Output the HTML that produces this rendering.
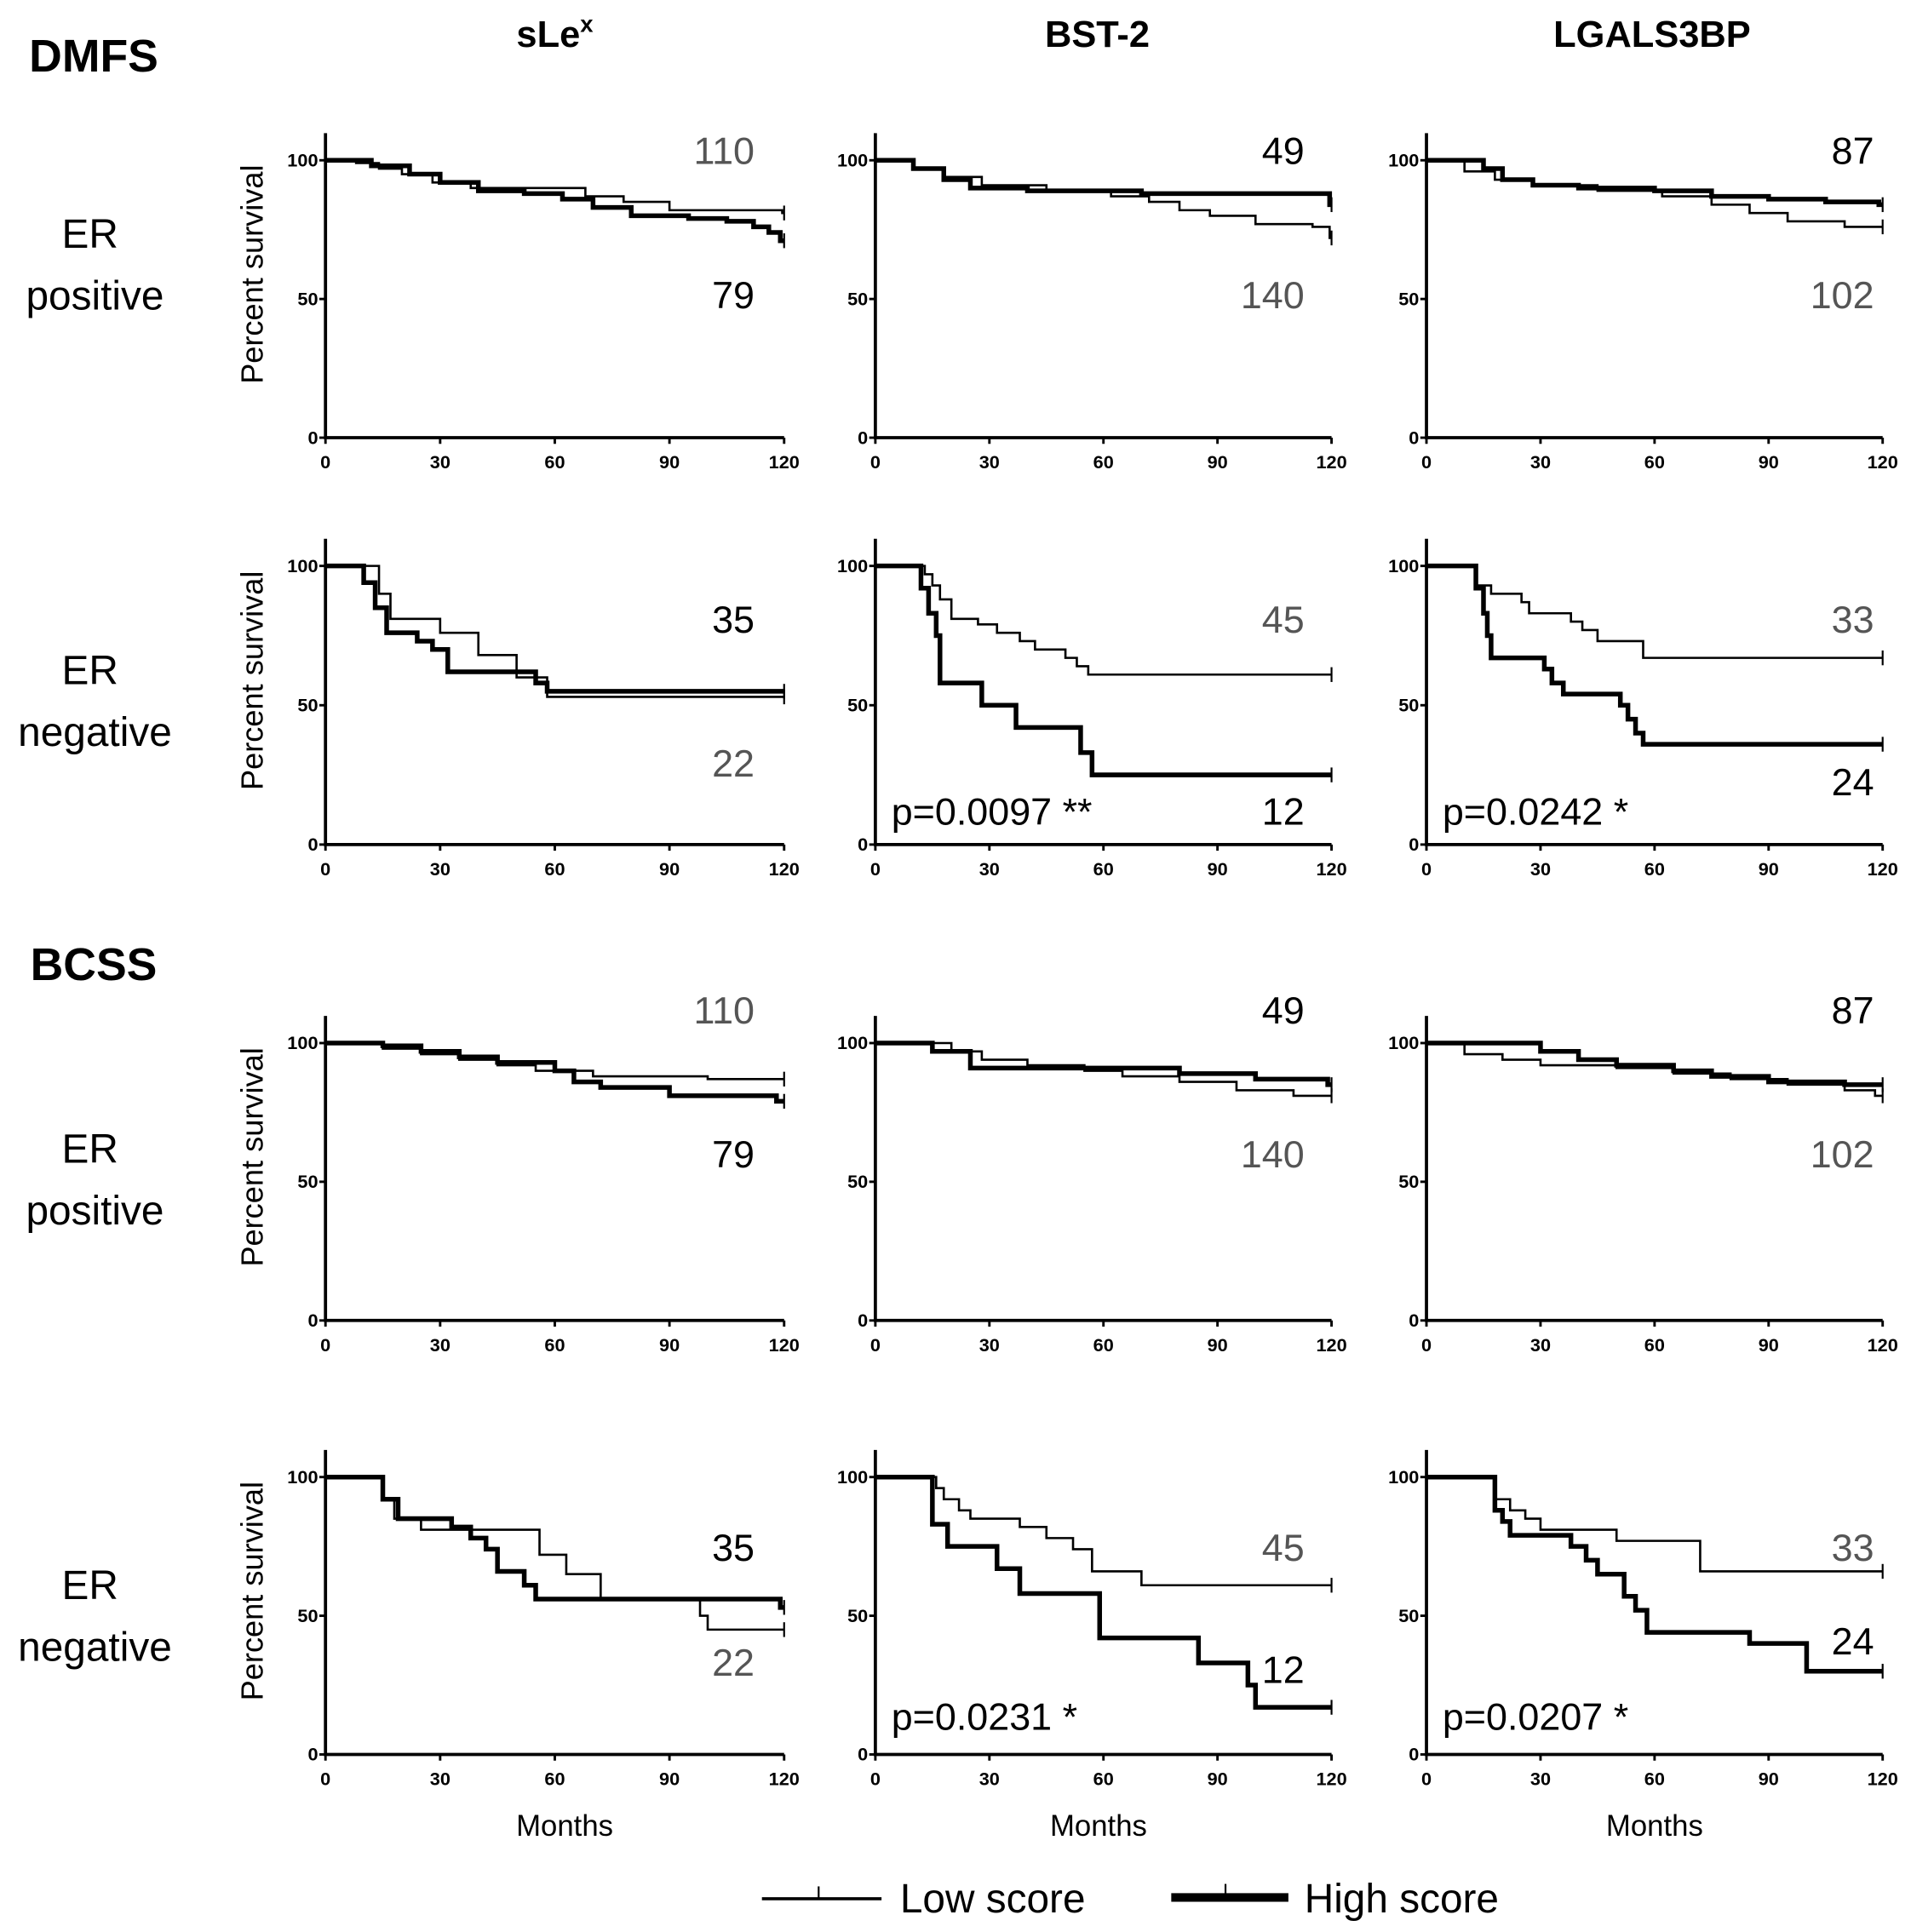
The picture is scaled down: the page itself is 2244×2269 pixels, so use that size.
<!DOCTYPE html>
<html><head><meta charset="utf-8"><style>
html,body{margin:0;padding:0;background:#fff}
svg{display:block}
text{font-family:"Liberation Sans Narrow","Liberation Sans",sans-serif}
.tick{font-size:15px;font-weight:bold;text-anchor:middle}
.ytick{font-size:15px;font-weight:bold;text-anchor:end}
.n{font-size:31px;text-anchor:end}
.g{fill:#555}
.lab{font-size:33px;text-anchor:middle}
.ttl{font-size:30px;font-weight:bold;text-anchor:middle;font-family:"Liberation Sans",sans-serif}
.yt{font-size:25px;text-anchor:middle;font-family:"Liberation Sans",sans-serif}
.mo{font-size:24px;text-anchor:middle}
</style></head><body>
<svg id="fig" width="2244" height="2269" viewBox="0 0 1550 1567" preserveAspectRatio="none" xmlns="http://www.w3.org/2000/svg">
<g id="static">
<text x="76" y="58" class="ttl" style="font-size:37px">DMFS</text>
<text x="76" y="795" class="ttl" style="font-size:37px">BCSS</text>
<text x="450" y="38" class="ttl">sLe<tspan dy="-12" style="font-size:19px">x</tspan></text>
<text x="890" y="38" class="ttl">BST-2</text>
<text x="1340" y="38" class="ttl">LGALS3BP</text>
<text x="75" y="201" class="lab"><tspan x="73">ER</tspan><tspan x="77" dy="50">positive</tspan></text>
<text x="75" y="555" class="lab"><tspan x="73">ER</tspan><tspan x="77" dy="50">negative</tspan></text>
<text x="75" y="943" class="lab"><tspan x="73">ER</tspan><tspan x="77" dy="50">positive</tspan></text>
<text x="75" y="1297" class="lab"><tspan x="73">ER</tspan><tspan x="77" dy="50">negative</tspan></text>
<text x="458" y="1489" class="mo">Months</text>
<text x="891" y="1489" class="mo">Months</text>
<text x="1342" y="1489" class="mo">Months</text>
<g>
<line x1="618" y1="1540" x2="715" y2="1540" stroke="#000" stroke-width="2.5"/>
<line x1="664" y1="1530" x2="664" y2="1540" stroke="#000" stroke-width="1.5"/>
<text x="730" y="1551" style="font-size:33px">Low score</text>
<line x1="950" y1="1539" x2="1045" y2="1539" stroke="#000" stroke-width="7"/>
<line x1="994" y1="1528" x2="994" y2="1539" stroke="#000" stroke-width="1.5"/>
<text x="1058" y="1551" style="font-size:33px">High score</text>
</g>
</g>
<g id="plots"></g>
</svg>
<script>
// ---- data (months, percent survival) ----
const xTicks=[0,30,60,90,120];
const yTicks=[0,50,100];
const r1c1LowT=[0,8,14,20,28,38,55,68,78,90,119.5];
const r1c1LowS=[100,99,97,95,92,90,90,87,85,82,81];
const r1c1HighT=[0,12,22,30,40,52,62,70,80,95,105,112,116,119];
const r1c1HighS=[100,98,95,92,89,88,86,83,80,79,78,76,74,71];
const r1c2LowT=[0,10,18,28,45,62,72,80,88,100,115,119.5];
const r1c2LowS=[100,97,94,91,89,87,85,82,80,77,76,72];
const r1c2HighT=[0,10,18,25,40,70,119.5];
const r1c2HighS=[100,97,93,90,89,88,84];
const r1c3LowT=[0,10,18,28,45,62,75,85,95,110];
const r1c3LowS=[100,96,93,91,89,87,84,81,78,76];
const r1c3HighT=[0,15,20,28,40,60,75,90,105,119];
const r1c3HighS=[100,97,93,91,90,89,87,86,85,84];
const r2c1LowT=[0,14,17,30,40,50,58];
const r2c1LowS=[100,90,81,76,68,60,53];
const r2c1HighT=[0,10,13,16,24,28,32,55,58];
const r2c1HighS=[100,94,85,76,73,70,62,58,55];
const r2c2LowT=[0,13,15,17,20,27,32,38,42,50,53,56];
const r2c2LowS=[100,97,93,88,81,79,76,73,70,67,64,61];
const r2c2HighT=[0,12,14,16,17,28,37,54,57];
const r2c2HighS=[100,92,83,75,58,50,42,33,25];
const r2c3LowT=[0,13,17,25,27,38,41,45,57];
const r2c3LowS=[100,93,90,87,83,80,77,73,67];
const r2c3HighT=[0,13,15,16,17,31,33,36,51,53,55,57];
const r2c3HighS=[100,92,83,75,67,63,58,54,50,45,40,36];
const r3c1LowT=[0,15,25,35,45,55,70,100];
const r3c1LowS=[100,98,96,94,92,90,88,87];
const r3c1HighT=[0,15,25,35,45,60,65,72,90,118];
const r3c1HighS=[100,99,97,95,93,90,86,84,81,79];
const r3c2LowT=[0,20,28,40,55,65,80,95,110];
const r3c2LowS=[100,97,94,92,90,88,86,83,81];
const r3c2HighT=[0,15,25,60,80,100,119];
const r3c2HighS=[100,97,91,91,89,87,85];
const r3c3LowT=[0,10,20,30,50,65,80,95,110,118];
const r3c3LowS=[100,96,94,92,91,89,87,85,83,81];
const r3c3HighT=[0,30,40,50,65,75,90,110];
const r3c3HighS=[100,97,94,92,90,88,86,85];
const r4c1LowT=[0,15,18,25,56,63,72,98,100];
const r4c1LowS=[100,92,85,81,72,65,56,50,45];
const r4c1HighT=[0,15,19,33,38,42,45,52,55,119];
const r4c1HighS=[100,92,85,82,78,74,66,61,56,53];
const r4c2LowT=[0,16,18,22,25,38,45,52,57,70];
const r4c2LowS=[100,96,92,88,85,82,78,74,66,61];
const r4c2HighT=[0,15,19,32,38,59,85,98,100];
const r4c2HighS=[100,83,75,67,58,42,33,25,17];
const r4c3LowT=[0,18,22,26,30,50,72];
const r4c3LowS=[100,92,88,85,81,77,66];
const r4c3HighT=[0,18,20,22,38,42,45,52,55,58,85,100];
const r4c3HighS=[100,88,84,79,75,70,65,57,52,44,40,30];
const r1Labels=[["110","79"],["49","140"],["87","102"]];
const r2Labels=[["35","22"],["45","12"],["33","24"]];
const pValues=["","p=0.0097 **","p=0.0242 *","","p=0.0231 *","p=0.0207 *"];

const data={
 r1c1:[r1c1LowT,r1c1LowS,r1c1HighT,r1c1HighS], r1c2:[r1c2LowT,r1c2LowS,r1c2HighT,r1c2HighS], r1c3:[r1c3LowT,r1c3LowS,r1c3HighT,r1c3HighS],
 r2c1:[r2c1LowT,r2c1LowS,r2c1HighT,r2c1HighS], r2c2:[r2c2LowT,r2c2LowS,r2c2HighT,r2c2HighS], r2c3:[r2c3LowT,r2c3LowS,r2c3HighT,r2c3HighS],
 r3c1:[r3c1LowT,r3c1LowS,r3c1HighT,r3c1HighS], r3c2:[r3c2LowT,r3c2LowS,r3c2HighT,r3c2HighS], r3c3:[r3c3LowT,r3c3LowS,r3c3HighT,r3c3HighS],
 r4c1:[r4c1LowT,r4c1LowS,r4c1HighT,r4c1HighS], r4c2:[r4c2LowT,r4c2LowS,r4c2HighT,r4c2HighS], r4c3:[r4c3LowT,r4c3LowS,r4c3HighT,r4c3HighS]
};
// ---- layout ----
const colX0=[264,710,1157], colX1=[636,1080,1527];
const rowY100=[130,459,846,1198], rowY0=[355,685,1071,1423];
const NS="http://www.w3.org/2000/svg";
const root=document.getElementById('plots');
function mk(tag,attrs,parent){const e=document.createElementNS(NS,tag);for(const k in attrs)e.setAttribute(k,attrs[k]);parent.appendChild(e);return e;}
function stepPath(T,S,sx,sy){let d="M"+sx(0)+","+sy(S[0]);for(let i=1;i<T.length;i++){d+="H"+sx(T[i])+"V"+sy(S[i]);}d+="H"+sx(120);return d;}
for(let r=0;r<4;r++)for(let c=0;c<3;c++){
 const x0=colX0[c],x1=colX1[c],y100=rowY100[r],y0=rowY0[r];
 const sx=v=>x0+(x1-x0)*v/120, sy=v=>y0-(y0-y100)*v/100;
 const g=mk('g',{},root);
 
 
 const ax=mk('path',{d:"M"+x0+","+(y100-22)+"V"+y0+"H"+x1,fill:"none",stroke:"#000","stroke-width":2.6},g);
 
 
 xTicks.forEach(t=>{mk('line',{x1:sx(t),x2:sx(t),y1:y0,y2:y0+5,stroke:"#000","stroke-width":2},g);
  const tx=mk('text',{x:sx(t),y:y0+25,class:"tick"},g);tx.textContent=t;
  
  });
 yTicks.forEach(t=>{mk('line',{x1:x0-5,x2:x0,y1:sy(t),y2:sy(t),stroke:"#000","stroke-width":2},g);
  const tx=mk('text',{x:x0-6,y:sy(t)+5,class:"ytick"},g);tx.textContent=t;
  
  });
 if(c===0){const cy=(y0+y100)/2-20;const yt=mk('text',{x:0,y:0,class:"yt",transform:"translate(213,"+cy+") rotate(-90)"},g);yt.textContent="Percent survival";
  
  }
 const d=data['r'+(r+1)+'c'+(c+1)];
 const lo=mk('path',{d:stepPath(d[0],d[1],sx,sy),fill:"none",stroke:"#000","stroke-width":1.8},g);
 
 
 const hi=mk('path',{d:stepPath(d[2],d[3],sx,sy),fill:"none",stroke:"#000","stroke-width":3.8},g);
 
 
 [d[1],d[3]].forEach(S=>{const v=S[S.length-1];mk('line',{x1:sx(120),x2:sx(120),y1:sy(v)-6,y2:sy(v)+6,stroke:"#000","stroke-width":1.5},g);});
 const nx=[612,1058,1520][c];
 const pos=(r%2===0);
 const labs=pos?r1Labels[c]:r2Labels[c];
 let topY,botY,topGrey,botGrey;
 if(pos){
  if(r===0){topY=y100+3;botY=y100+120;}else{topY=y100-16;botY=y100+101;}
  topGrey=(c===0);botGrey=(c!==0);}
 else{topY=y100+54;botY=(c===0)?y100+171:(c===1?y100+210:y100+186);
  if(r===3){topY=y100+68;botY=(c===0)?y100+161:(c===1?y100+167:y100+144);}
  topGrey=(c!==0);botGrey=(c===0);}
 const t1=mk('text',{x:nx,y:topY,class:"n"+(topGrey?" g":"")},g);t1.textContent=labs[0];
 
 
 const t2=mk('text',{x:nx,y:botY,class:"n"+(botGrey?" g":"")},g);t2.textContent=labs[1];
 
 
 const pv=pValues[(r>=2?3:0)+c];
 if(!pos&&pv){const p=mk('text',{x:x0+13,y:y100+210,style:"font-size:31px"},g);p.textContent=pv;
  if(r===3)p.setAttribute('y',y100+205);
  
  }
}
</script>
</body></html>
